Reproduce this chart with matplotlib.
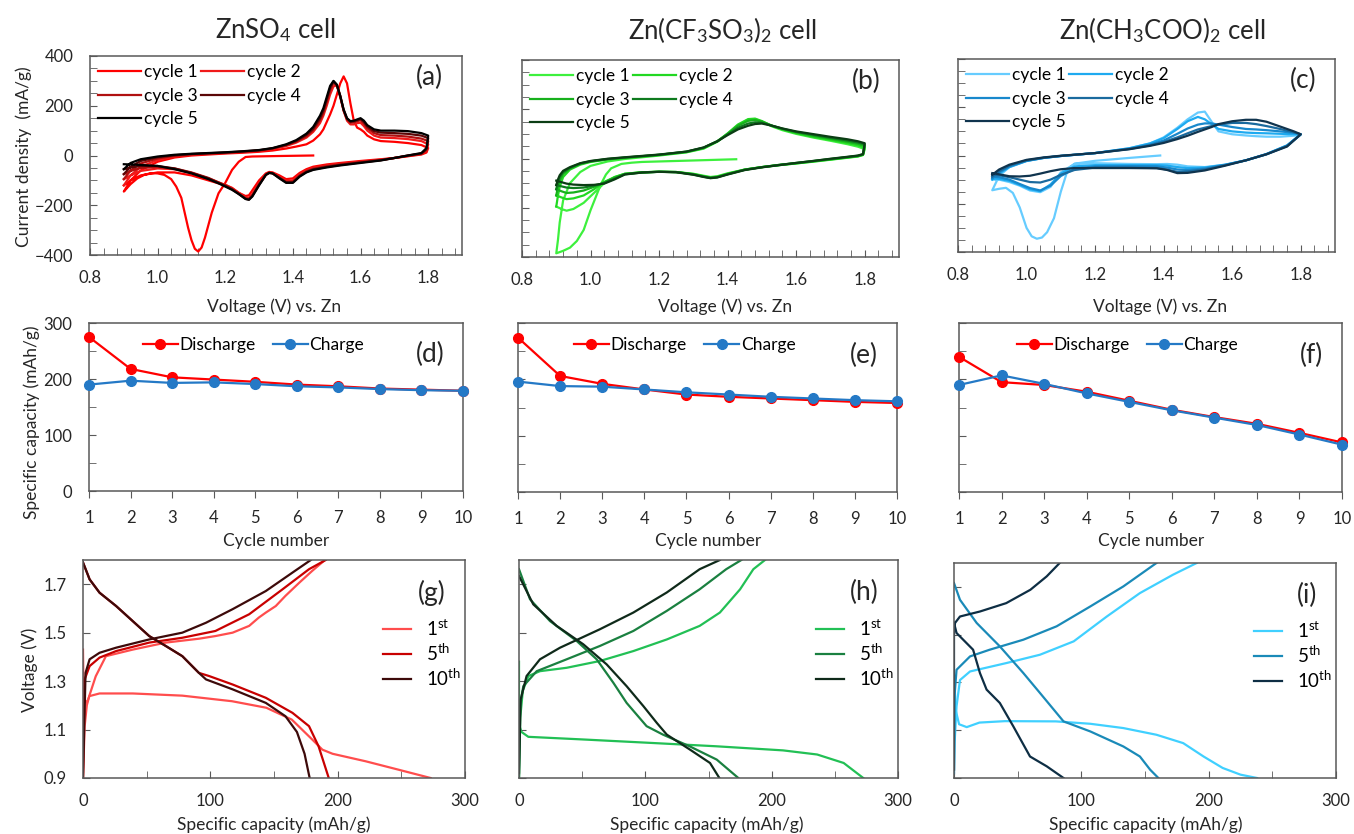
import numpy as np
import matplotlib
matplotlib.use("Agg")
import matplotlib.pyplot as plt
from matplotlib.ticker import MultipleLocator, NullFormatter

plt.rcParams['font.family'] = ['Lato', 'DejaVu Sans']
plt.rcParams['mathtext.fontset'] = 'custom'
plt.rcParams['mathtext.rm'] = 'Lato'
plt.rcParams['mathtext.it'] = 'Lato:italic'
plt.rcParams['mathtext.bf'] = 'Lato:bold'

# ---------------- CV data (a) ZnSO4 ----------------
a_init_v = [1.46, 1.36, 1.28, 1.26, 1.24, 1.22, 1.20, 1.18, 1.16, 1.14, 1.13, 1.12, 1.11, 1.10, 1.09,
            1.08, 1.07, 1.055, 1.04, 1.02, 1.00, 0.98, 0.96, 0.94, 0.92, 0.90]
a_init_i = [0, -2, -4, -6, -25, -58, -110, -152, -230, -330, -370, -386, -375, -340, -290,
            -230, -170, -125, -95, -78, -72, -71, -78, -92, -115, -145]
a_up_v = [0.90, 0.92, 0.95, 1.00, 1.05, 1.10, 1.15, 1.20, 1.25, 1.30, 1.34, 1.38, 1.41, 1.44, 1.46, 1.48,
          1.49, 1.50, 1.51, 1.52, 1.53, 1.54, 1.55, 1.56, 1.57, 1.58, 1.59, 1.60, 1.61, 1.62, 1.64, 1.66,
          1.70, 1.74, 1.78, 1.80]
a_up_i = [
    [-145, -100, -60, -25, -8, 0, 4, 8, 11, 15, 20, 28, 36, 45, 60, 85, 105, 135, 165, 200, 245, 290, 318,
     290, 210, 140, 112, 105, 95, 80, 65, 58, 55, 50, 42, 30],
    [-120, -80, -45, -18, -4, 3, 7, 10, 14, 19, 26, 38, 52, 72, 95, 130, 160, 200, 245, 278, 282, 240, 180,
     140, 125, 125, 130, 132, 118, 100, 80, 72, 70, 66, 58, 45],
    [-95, -60, -32, -12, -1, 5, 8, 11, 15, 20, 28, 41, 56, 78, 102, 142, 172, 215, 262, 293, 280, 235, 180,
     145, 132, 133, 138, 142, 128, 110, 90, 82, 80, 76, 68, 58],
    [-75, -45, -22, -7, 1, 6, 9, 12, 16, 21, 29, 43, 59, 83, 108, 150, 180, 225, 272, 298, 283, 238, 183,
     148, 136, 138, 142, 147, 135, 117, 98, 92, 90, 87, 80, 70],
    [-55, -30, -15, -4, 3, 7, 10, 13, 17, 22, 30, 45, 62, 88, 115, 160, 190, 235, 280, 300, 285, 240, 185,
     150, 138, 140, 145, 150, 140, 122, 105, 100, 100, 98, 90, 80],
]
a_dn_v = [1.80, 1.795, 1.78, 1.74, 1.70, 1.66, 1.60, 1.54, 1.50, 1.46, 1.44, 1.42, 1.40, 1.38, 1.36, 1.34,
          1.33, 1.32, 1.30, 1.28, 1.27, 1.26, 1.24, 1.22, 1.20, 1.18, 1.15, 1.10, 1.05, 1.00, 0.95, 0.92, 0.90]
a_dn_i = [
    [30, 12, 4, -3, -10, -15, -22, -30, -36, -45, -55, -70, -92, -95, -80, -68, -66, -72, -100, -140, -160,
     -163, -150, -130, -118, -112, -100, -80, -68, -68, -80, -100, -120],
    [45, 18, 6, -2, -10, -17, -25, -33, -40, -50, -60, -76, -100, -102, -85, -70, -68, -75, -110, -155, -170,
     -168, -150, -132, -118, -108, -92, -70, -55, -52, -62, -80, -95],
    [58, 22, 7, -1, -10, -18, -27, -36, -43, -53, -63, -80, -105, -106, -88, -71, -69, -77, -115, -160, -175,
     -172, -153, -134, -120, -108, -90, -68, -52, -46, -50, -62, -75],
    [70, 26, 8, 0, -10, -19, -28, -38, -46, -56, -66, -83, -108, -108, -90, -72, -70, -78, -118, -163, -177,
     -174, -155, -136, -122, -110, -92, -70, -52, -42, -42, -48, -55],
    [80, 30, 10, 0, -10, -20, -30, -40, -48, -58, -68, -85, -110, -110, -92, -72, -70, -78, -120, -165, -178,
     -175, -155, -138, -125, -112, -95, -72, -55, -42, -38, -36, -35],
]

# ---------------- CV data (b) Zn(CF3SO3)2 ----------------
b_init_v = [1.425, 1.35, 1.25, 1.15, 1.12, 1.09, 1.06, 1.045, 1.03, 1.00, 0.98, 0.96, 0.94, 0.92, 0.90]
b_init_i = [-3, -6, -10, -14, -17, -22, -40, -65, -105, -210, -290, -335, -362, -375, -385]
b_up_v = [0.90, 0.905, 0.91, 0.92, 0.94, 0.97, 1.00, 1.05, 1.10, 1.20, 1.28, 1.33, 1.37, 1.40, 1.43, 1.46,
          1.48, 1.50, 1.53, 1.56, 1.60, 1.65, 1.70, 1.75, 1.78, 1.80]
b_up_i = [
    [-385, -330, -260, -170, -100, -55, -30, -12, -2, 12, 25, 40, 68, 100, 135, 158, 160, 150, 130, 115,
     100, 85, 72, 58, 48, 38],
    [-195, -150, -115, -75, -45, -25, -14, -4, 2, 14, 26, 42, 70, 102, 138, 160, 162, 152, 132, 118, 103,
     88, 76, 63, 54, 45],
    [-150, -115, -90, -62, -40, -22, -12, -3, 3, 15, 27, 43, 70, 100, 133, 153, 156, 150, 133, 120, 106,
     92, 80, 68, 60, 52],
    [-125, -95, -75, -55, -38, -20, -11, -2, 4, 15, 28, 44, 70, 98, 125, 142, 147, 145, 133, 121, 108, 96,
     84, 73, 65, 58],
    [-108, -85, -68, -50, -35, -19, -10, -1, 5, 16, 28, 45, 70, 95, 118, 133, 140, 142, 133, 122, 110, 99,
     88, 78, 70, 62],
]
b_dn_v = [1.80, 1.795, 1.78, 1.75, 1.70, 1.65, 1.60, 1.55, 1.50, 1.45, 1.40, 1.37, 1.35, 1.33, 1.30, 1.25,
          1.20, 1.15, 1.10, 1.07, 1.04, 1.01, 0.98, 0.95, 0.93, 0.915, 0.90]
b_dn_i = [
    [38, 14, 8, 3, -5, -13, -20, -27, -35, -45, -60, -72, -75, -70, -62, -55, -54, -56, -62, -75, -100,
     -140, -180, -205, -212, -205, -195],
    [45, 15, 9, 4, -4, -12, -20, -27, -35, -45, -62, -74, -77, -72, -63, -55, -54, -56, -62, -76, -95,
     -125, -150, -162, -165, -158, -150],
    [52, 16, 10, 5, -3, -11, -19, -26, -35, -45, -63, -75, -78, -73, -64, -55, -54, -56, -63, -78, -97,
     -115, -130, -138, -140, -133, -125],
    [58, 17, 11, 6, -2, -10, -18, -26, -35, -46, -64, -76, -79, -74, -65, -55, -54, -57, -64, -82, -100,
     -110, -118, -120, -118, -113, -108],
    [62, 18, 12, 7, -1, -10, -18, -27, -36, -47, -65, -77, -80, -75, -66, -56, -54, -57, -65, -85, -102,
     -107, -108, -106, -102, -96, -90],
]

# ---------------- CV data (c) Zn(CH3COO)2 ----------------
c_init_v = [1.39, 1.30, 1.20, 1.14, 1.12, 1.10, 1.08, 1.06, 1.045, 1.03, 1.015, 1.00, 0.98, 0.96, 0.94,
            0.92, 0.90]
c_init_i = [0, -10, -22, -34, -60, -150, -260, -318, -340, -345, -335, -300, -215, -155, -134, -138, -144]
c_up_v = [0.90, 0.92, 0.95, 1.00, 1.05, 1.10, 1.20, 1.30, 1.36, 1.40, 1.44, 1.47, 1.50, 1.52, 1.54, 1.56,
          1.60, 1.64, 1.67, 1.70, 1.74, 1.78, 1.80]
c_up_i = [
    [-144, -85, -48, -22, -10, -2, 10, 30, 50, 75, 115, 150, 178, 182, 140, 100, 88, 83, 80, 78, 78, 82, 86],
    [-100, -75, -48, -23, -10, -2, 10, 30, 50, 72, 110, 142, 160, 150, 130, 110, 100, 95, 93, 92, 90, 88, 88],
    [-95, -70, -45, -22, -10, -2, 10, 28, 45, 62, 90, 112, 128, 133, 133, 128, 118, 110, 108, 105, 100, 94, 88],
    [-88, -65, -42, -20, -9, -2, 10, 27, 42, 56, 75, 92, 108, 115, 122, 128, 135, 135, 130, 122, 110, 96, 88],
    [-80, -58, -38, -18, -8, -1, 10, 26, 40, 52, 68, 82, 98, 108, 118, 130, 142, 148, 148, 140, 120, 100, 88],
]
c_dn_v = [1.80, 1.76, 1.70, 1.64, 1.58, 1.52, 1.47, 1.44, 1.41, 1.38, 1.30, 1.20, 1.14, 1.10, 1.07, 1.04,
          1.01, 0.98, 0.95, 0.92, 0.90]
c_dn_i = [
    [86, 40, 5, -20, -38, -48, -45, -38, -35, -36, -35, -32, -35, -70, -130, -152, -145, -125, -110, -100, -100],
    [88, 42, 6, -20, -38, -50, -52, -48, -42, -40, -40, -40, -45, -75, -120, -148, -140, -122, -105, -97, -95],
    [88, 41, 6, -20, -39, -54, -60, -58, -50, -45, -44, -45, -55, -85, -125, -145, -135, -118, -100, -90, -88],
    [88, 39, 5, -20, -40, -58, -66, -68, -58, -52, -50, -50, -60, -80, -100, -112, -110, -100, -90, -82, -80],
    [88, 37, 5, -20, -42, -62, -72, -73, -60, -53, -52, -52, -52, -57, -65, -75, -84, -87, -86, -78, -73],
]

# ---------------- capacity vs cycle ----------------
cycles = [1, 2, 3, 4, 5, 6, 7, 8, 9, 10]
d_dis = [275, 218, 203, 199, 195, 190, 187, 183, 181, 179]
d_chg = [190, 197, 193, 194, 191, 187, 185, 182, 180, 179]
e_dis = [274, 206, 192, 182, 173, 169, 166, 163, 160, 158]
e_chg = [196, 188, 187, 182, 177, 173, 169, 166, 163, 161]
f_dis = [240, 195, 190, 178, 162, 146, 133, 121, 105, 88]
f_chg = [190, 207, 192, 175, 160, 145, 132, 119, 102, 84]

# ---------------- galvanostatic profiles (discharge cap, V, charge cap, V) ----------------
g_curves = {
    '1st': ([0, 0.3, 1.3, 3, 5, 13, 39, 78, 117, 144, 164, 180, 188, 196, 222, 248, 273],
            [1.43, 1.30, 1.224, 1.21, 1.238, 1.249, 1.249, 1.24, 1.217, 1.19, 1.141, 1.059, 1.017, 1.0,
             0.969, 0.934, 0.9],
            [0, 1.3, 3, 5, 10, 18, 39, 65, 91, 104, 117.5, 130.5, 138, 143.6, 151.4, 159, 170, 180, 190],
            [0.9, 1.114, 1.2, 1.24, 1.32, 1.403, 1.43, 1.459, 1.475, 1.486, 1.50, 1.528, 1.562, 1.583,
             1.61, 1.652, 1.707, 1.755, 1.80]),
    '5th': ([0, 5.2, 13, 26, 39, 52, 65, 78, 91, 99, 117.5, 143.6, 164.5, 177.5, 185, 193],
            [1.79, 1.72, 1.665, 1.61, 1.548, 1.486, 1.445, 1.403, 1.334, 1.321, 1.286, 1.231, 1.169, 1.114,
             1.031, 0.9],
            [0, 1.3, 5.2, 13, 26, 52, 78, 104, 130.5, 156.7, 177.5, 190.6],
            [0.9, 1.307, 1.362, 1.397, 1.424, 1.459, 1.479, 1.507, 1.576, 1.679, 1.762, 1.80]),
    '10th': ([0, 5.2, 13, 26, 39, 52, 65, 78, 91, 96.6, 117.5, 143.6, 159, 168, 174, 178],
             [1.79, 1.72, 1.665, 1.61, 1.548, 1.486, 1.445, 1.403, 1.334, 1.307, 1.266, 1.21, 1.155, 1.09,
              1.0, 0.9],
             [0, 2, 5.2, 13, 26, 52, 78, 96.6, 117.5, 143.6, 164.5, 178.9],
             [0.9, 1.334, 1.39, 1.417, 1.438, 1.472, 1.50, 1.541, 1.597, 1.672, 1.748, 1.80]),
}
h_curves = {
    '1st': ([0, 0, 2, 7.4, 51, 104, 156, 209, 236, 257, 272.5],
            [1.38, 1.12, 1.09, 1.07, 1.059, 1.045, 1.031, 1.014, 0.997, 0.962, 0.9],
            [0, 1, 3, 7.4, 16.6, 37.7, 64, 90.5, 117, 143, 159, 175, 185.5, 194.7],
            [0.9, 1.15, 1.26, 1.321, 1.341, 1.355, 1.383, 1.424, 1.472, 1.528, 1.583, 1.679, 1.762, 1.80]),
    '5th': ([0, 8.7, 24.5, 45.6, 61.5, 74.7, 85.2, 101, 114, 135, 156.5, 173.6],
            [1.762, 1.638, 1.548, 1.466, 1.39, 1.293, 1.21, 1.114, 1.079, 1.031, 0.976, 0.9],
            [0, 0.8, 3.4, 14, 37.7, 64, 90.5, 117, 143, 164, 176],
            [0.9, 1.197, 1.279, 1.341, 1.39, 1.445, 1.507, 1.59, 1.679, 1.762, 1.80]),
    '10th': ([0, 11.3, 29.8, 50.9, 69.4, 85.2, 98.4, 109, 117, 135.4, 151.2, 158.6],
             [1.734, 1.617, 1.528, 1.452, 1.369, 1.279, 1.197, 1.128, 1.079, 1.017, 0.962, 0.9],
             [0, 1.3, 6, 16.6, 32.5, 64, 90.5, 117, 143, 159],
             [0.92, 1.224, 1.321, 1.39, 1.438, 1.514, 1.583, 1.666, 1.762, 1.80]),
}
i_curves = {
    '1st': ([0.5, 1.5, 4, 10, 20, 40, 80, 107, 133, 159, 180, 196, 211, 225, 238],
            [1.28, 1.18, 1.125, 1.113, 1.132, 1.138, 1.137, 1.127, 1.109, 1.081, 1.046, 0.99, 0.942, 0.914, 0.9],
            [0, 0.5, 2, 4.7, 12.6, 41, 67.5, 94, 120, 146, 172, 190.6],
            [0.935, 1.05, 1.2, 1.31, 1.346, 1.381, 1.416, 1.472, 1.576, 1.674, 1.751, 1.80]),
    '5th': ([0, 4.7, 17.8, 36, 54.5, 67.5, 86, 107, 133, 146, 154, 160.5],
            [1.716, 1.646, 1.549, 1.451, 1.339, 1.256, 1.137, 1.095, 1.032, 0.99, 0.935, 0.9],
            [0, 0.5, 2, 12.6, 28, 54.5, 80.6, 107, 133, 159],
            [0.92, 1.25, 1.353, 1.409, 1.437, 1.479, 1.535, 1.618, 1.702, 1.80]),
    '10th': ([0, 2, 15, 20.4, 25.6, 36, 46.6, 59.7, 72.8, 86],
             [1.55, 1.507, 1.437, 1.339, 1.27, 1.214, 1.116, 0.99, 0.949, 0.9],
             [0, 0, 0.8, 4.7, 20.4, 41, 60, 72.8, 83],
             [0.935, 1.50, 1.549, 1.576, 1.597, 1.632, 1.688, 1.744, 1.80]),
}

cv_colors = [['#FF0000', '#F01A1A', '#B01010', '#5A0606', '#000000'],
             ['#3DF03D', '#22D822', '#17B01C', '#0E7A1E', '#0B3D14'],
             ['#66CCFF', '#1EAAF0', '#1888CC', '#1A6A9E', '#10344E']]
gc_colors = [['#FF4D4D', '#C80000', '#3D0A0A'],
             ['#22C055', '#1A8040', '#0F2A1A'],
             ['#40D0FF', '#1A8AB8', '#0E2E44']]
red, blue = '#FF0000', '#2479C6'
text_c = '#262626'
spine_c = '#595959'

W, H = 1354, 834
fig = plt.figure(figsize=(W / 100, H / 100), dpi=100)


def px_axes(l, t, r, b):
    return fig.add_axes([l / W, 1 - b / H, (r - l) / W, (b - t) / H])


def style(ax):
    for s in ax.spines.values():
        s.set_color(spine_c)
        s.set_linewidth(1.1)
    ax.tick_params(which='both', colors=spine_c, labelcolor=text_c, labelsize=12)


top_boxes = [(90, 56, 462, 255), (522, 60, 899, 257), (958, 59, 1335, 252)]
mid_boxes = [(89, 323, 463, 491), (518, 323, 897, 492), (959, 323, 1342, 492)]
bot_boxes = [(83, 560, 465, 778), (519, 560, 898, 778), (954, 563, 1336, 778)]

cv_sets = [(a_init_v, a_init_i, a_up_v, a_up_i, a_dn_v, a_dn_i),
           (b_init_v, b_init_i, b_up_v, b_up_i, b_dn_v, b_dn_i),
           (c_init_v, c_init_i, c_up_v, c_up_i, c_dn_v, c_dn_i)]
letters_top = ['(a)', '(b)', '(c)']
for k, box in enumerate(top_boxes):
    ax = px_axes(*box)
    init_v, init_i, up_v, up_i, dn_v, dn_i = cv_sets[k]
    lines = []
    for n in range(5):
        if n == 0:
            v = list(init_v) + list(up_v) + list(dn_v)
            cur = list(init_i) + list(up_i[n]) + list(dn_i[n])
        else:
            v = list(up_v) + list(dn_v)
            cur = list(up_i[n]) + list(dn_i[n])
        ln, = ax.plot(v, cur, color=cv_colors[k][n], lw=1.6, label=f'cycle {n + 1}',
                      solid_joinstyle='round')
        lines.append(ln)
    ax.set_xlim(0.8, 1.9)
    ax.set_ylim(-400, 400)
    ax.xaxis.set_major_locator(MultipleLocator(0.2))
    ax.xaxis.set_minor_locator(MultipleLocator(0.04))
    ax.yaxis.set_major_locator(MultipleLocator(200))
    ax.yaxis.set_minor_locator(MultipleLocator(50))
    ax.xaxis.set_major_formatter(plt.FuncFormatter(lambda x, p: f'{x:.1f}'))
    ax.tick_params(which='both', direction='in', length=5, top=False, right=False)
    ax.tick_params(axis='y', pad=12)
    ax.tick_params(axis='x', pad=11)
    style(ax)
    if k > 0:
        ax.yaxis.set_major_formatter(NullFormatter())
    # row-major order: cycle1 cycle2 / cycle3 cycle4 / cycle5
    order = [0, 2, 4, 1, 3]
    ax.legend([lines[j] for j in order], [lines[j].get_label() for j in order],
              ncol=2, loc='upper left', frameon=False, fontsize=12.5, handlelength=2.5,
              columnspacing=0.2, handletextpad=0.15, labelspacing=0.45, borderaxespad=0.25,
              borderpad=0.2)
    ax.text(0.95, 0.89, letters_top[k], transform=ax.transAxes, ha='right', va='center',
            fontsize=19, color=text_c)

mid_sets = [(d_dis, d_chg), (e_dis, e_chg), (f_dis, f_chg)]
letters_mid = ['(d)', '(e)', '(f)']
for k, box in enumerate(mid_boxes):
    ax = px_axes(*box)
    dis, chg = mid_sets[k]
    ax.plot(cycles, dis, '-o', color=red, lw=1.6, ms=7, label='Discharge', clip_on=False, zorder=3)
    ax.plot(cycles, chg, '-o', color=blue, lw=1.6, ms=7, label='Charge', clip_on=False, zorder=4)
    ax.set_xlim(1, 10)
    ax.set_ylim(0, 300)
    ax.xaxis.set_major_locator(MultipleLocator(1))
    ax.yaxis.set_major_locator(MultipleLocator(100))
    ax.yaxis.set_minor_locator(MultipleLocator(50))
    ax.tick_params(axis='y', which='both', direction='in', length=5, pad=12)
    ax.tick_params(axis='x', which='both', direction='out', length=5, pad=9)
    style(ax)
    if k > 0:
        ax.yaxis.set_major_formatter(NullFormatter())
    ax.legend(ncol=2, loc='upper center', bbox_to_anchor=(0.44, 1.0), frameon=False, fontsize=12.5,
              handlelength=2.0, columnspacing=1.0, handletextpad=0.1, borderaxespad=0.4)
    ax.text(0.95, 0.81, letters_mid[k], transform=ax.transAxes, ha='right', va='center',
            fontsize=19, color=text_c)

bot_sets = [g_curves, h_curves, i_curves]
letters_bot = ['(g)', '(h)', '(i)']
lab = {'1st': '1$^{\\mathrm{st}}$', '5th': '5$^{\\mathrm{th}}$', '10th': '10$^{\\mathrm{th}}$'}
for k, box in enumerate(bot_boxes):
    ax = px_axes(*box)
    for n, key in enumerate(['1st', '5th', '10th']):
        dc, dv, cc, cv = bot_sets[k][key]
        col = gc_colors[k][n]
        ax.plot(dc, dv, color=col, lw=1.6, label=lab[key])
        ax.plot(cc, cv, color=col, lw=1.6)
    ax.set_xlim(0, 300)
    ax.set_ylim(0.9, 1.8)
    ax.set_yticks([0.9, 1.1, 1.3, 1.5, 1.7])
    ax.xaxis.set_major_locator(MultipleLocator(100))
    ax.xaxis.set_minor_locator(MultipleLocator(50))
    ax.tick_params(which='both', direction='in', length=5)
    ax.tick_params(axis='y', pad=12)
    ax.tick_params(axis='x', pad=11)
    style(ax)
    if k > 0:
        ax.yaxis.set_major_formatter(NullFormatter())
    ax.legend(loc='center left', bbox_to_anchor=(0.74, 0.57), frameon=False, fontsize=13.5,
              handlelength=1.5, handletextpad=0.8, labelspacing=0.2)
    ax.text(0.95, 0.85, letters_bot[k], transform=ax.transAxes, ha='right', va='center',
            fontsize=19, color=text_c)

# titles and axis labels
titles = ['ZnSO$_4$ cell', 'Zn(CF$_3$SO$_3$)$_2$ cell', 'Zn(CH$_3$COO)$_2$ cell']
title_x = [275, 722, 1162]
for t, x in zip(titles, title_x):
    fig.text(x / W, 1 - 30 / H, t, ha='center', va='center', fontsize=18.5, color=text_c)

for x in [274, 725, 1160]:
    fig.text(x / W, 1 - 307 / H, 'Voltage (V) vs. Zn', ha='center', va='center', fontsize=12.5,
             color=text_c)
for x in [276, 708, 1151]:
    fig.text(x / W, 1 - 541 / H, 'Cycle number', ha='center', va='center', fontsize=12.5, color=text_c)
for x in [274, 707, 1146]:
    fig.text(x / W, 1 - 825 / H, 'Specific capacity (mAh/g)', ha='center', va='center', fontsize=12.5,
             color=text_c)

fig.text(24 / W, 1 - 157 / H, 'Current density  (mA/g)', rotation=90, ha='center', va='center',
         fontsize=12.5, color=text_c)
fig.text(32 / W, 1 - 422 / H, 'Specific capacity (mAh/g)', rotation=90, ha='center', va='center',
         fontsize=12.5, color=text_c)
fig.text(30 / W, 1 - 670 / H, 'Voltage (V)', rotation=90, ha='center', va='center',
         fontsize=12.5, color=text_c)

fig.savefig('out.png', dpi=100)
